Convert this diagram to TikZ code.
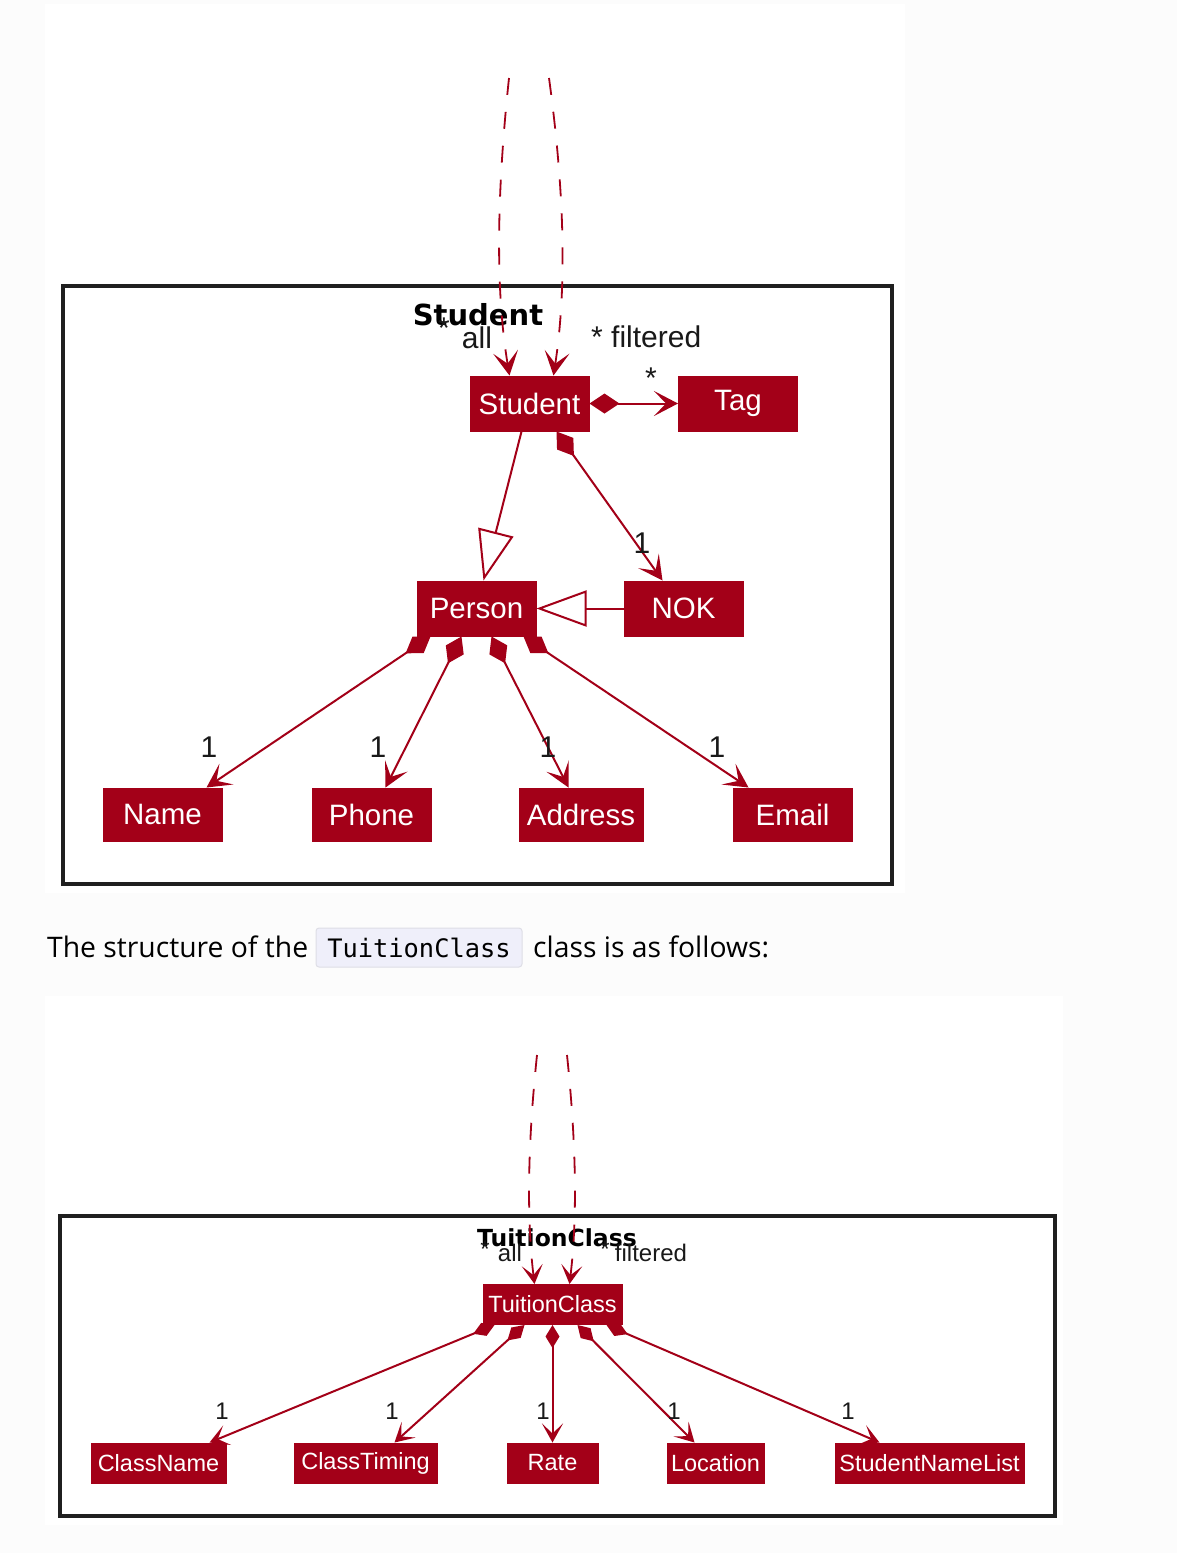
\documentclass[tikz,border=0pt]{standalone}
\usepackage{fontspec}
\setmainfont{Liberation Sans}
\newfontfamily\umlfont{Liberation Sans}
\newfontfamily\titlefont{DejaVu Sans}
\newfontfamily\bodyfont{Open Sans}
\newfontfamily\codefont{DejaVu Sans Mono}
\usetikzlibrary{arrows.meta,calc}
\definecolor{umlred}{RGB}{163,0,24}
\definecolor{pagebg}{RGB}{252,252,252}
\definecolor{codebg}{RGB}{239,239,250}
\definecolor{codeborder}{RGB}{222,222,230}
\definecolor{labelcol}{RGB}{25,25,25}
\tikzset{
  cls/.style={draw=umlred, fill=umlred, text=white, inner sep=0pt, line width=1pt},
  bigcls/.style={cls, font=\umlfont\fontsize{29.5}{29.5}\selectfont, minimum height=55pt},
  smallcls/.style={cls, font=\umlfont\fontsize{23.5}{23.5}\selectfont, minimum height=40pt},
  frameline/.style={draw=black!88, line width=3.2pt},
  conn/.style={draw=umlred, line width=2pt},
  bigopen/.style={-{Stealth[length=24pt,width=25pt,inset=12pt]}},
  smallopen/.style={-{Stealth[length=19pt,width=21pt,inset=10pt]}},
  bigcomp/.style={{Diamond[length=30pt,width=20pt]}-{Stealth[length=24pt,width=25pt,inset=12pt]}},
  smallcomp/.style={{Diamond[length=23pt,width=14pt]}-{Stealth[length=19pt,width=21pt,inset=10pt]}},
  gen/.style={-{Triangle[open,length=50pt,width=36pt,fill=white]}},
  loopline/.style={draw=umlred, line width=1.8pt, dash pattern=on 17pt off 17pt},
  biglab/.style={text=labelcol, font=\umlfont\fontsize{30}{30}\selectfont, inner sep=0pt},
  smalllab/.style={text=labelcol, font=\umlfont\fontsize{24}{24}\selectfont, inner sep=0pt},
}
\begin{document}
\begin{tikzpicture}[x=1pt,y=-1pt]
\useasboundingbox (0,0) rectangle (1177,1553);
% page background
\fill[pagebg] (0,0) rectangle (1177,1553);
\fill[white] (45,4) rectangle (905,893);
\fill[white] (45,996) rectangle (1063,1525);

% ================= Student diagram =================
\draw[frameline] (63,286) rectangle (892,884);
\node[font=\titlefont\bfseries\fontsize{29}{29}\selectfont, inner sep=0pt] (t1) at (478,315) {Student};

\node[bigcls, minimum width=119pt] (student) at (529.5,403.5) {Student};
\node[bigcls, minimum width=119pt] (tag) at (738,403.5) {Tag};
\node[bigcls, minimum width=119pt] (person) at (476.5,608.5) {Person};
\node[bigcls, minimum width=119pt] (nok) at (683.5,608.5) {NOK};
\node[bigcls, minimum width=119pt, minimum height=53pt] (name) at (162.5,814.5) {Name};
\node[bigcls, minimum width=119pt, minimum height=53pt] (phone) at (371.5,814.5) {Phone};
\node[bigcls, minimum width=124pt, minimum height=53pt] (address) at (581,814.5) {Address};
\node[bigcls, minimum width=119pt, minimum height=53pt] (email) at (792.5,814.5) {Email};

\coordinate (s1top) at (509,78);
\coordinate (s2top) at (549,78);
\draw[loopline, bigopen] (s1top) .. controls (495,210) and (497,300) .. ($(student.north west)+(40,0)$);
\draw[loopline, bigopen] (s2top) .. controls (567,210) and (565,300) .. ($(student.north west)+(84,0)$);

\node[biglab] (la1) at (444,328) {*};
\node[biglab] (la2) at (477,338) {all};
\node[biglab, anchor=west] (lf) at (591,337) {* filtered};
\node[biglab] (lt) at (651,378) {*};

\draw[conn, bigcomp] (student.east) -- (tag.west);
\draw[conn, gen] ($(student.south west)+(52,0)$) -- ($(person.north west)+(67,0)$);
\draw[conn, bigcomp] ($(student.south west)+(87,0)$) -- ($(nok.north west)+(39,0)$);
\draw[conn, gen] (nok.west) -- (person.east);
\node[biglab] (l0) at (642,543) {1};

\draw[conn, bigcomp] ($(person.south west)+(14,0)$) -- ($(name.north west)+(104,0)$);
\draw[conn, bigcomp] ($(person.south west)+(45,0)$) -- ($(phone.north west)+(74,0)$);
\draw[conn, bigcomp] ($(person.south west)+(75,0)$) -- ($(address.north west)+(50,0)$);
\draw[conn, bigcomp] ($(person.south west)+(107,0)$) -- ($(email.north west)+(16,0)$);
\node[biglab] (l1) at (209,747) {1};
\node[biglab] (l2) at (378,747) {1};
\node[biglab] (l3) at (548,747) {1};
\node[biglab] (l4) at (717,747) {1};

% ================= text line =================
\node[anchor=base west, inner sep=0pt, font=\bodyfont\fontsize{28.3}{28.3}\selectfont] (txt1) at (47,957) {The structure of the};
\node[draw=codeborder, fill=codebg, rounded corners=3pt, line width=1pt, minimum width=206pt, minimum height=39pt, inner sep=0pt] (code) at (419,947.5) {};
\node[anchor=base, inner sep=0pt, font=\codefont\fontsize{25.4}{25.4}\selectfont] (codetxt) at (419,957) {TuitionClass};
\node[anchor=base west, inner sep=0pt, font=\bodyfont\fontsize{28.3}{28.3}\selectfont] (txt2) at (533,957) {class is as follows:};

% ================= TuitionClass diagram =================
\draw[frameline] (60,1216) rectangle (1055,1516);
\node[font=\titlefont\bfseries\fontsize{23.5}{23.5}\selectfont, inner sep=0pt] (t2) at (557,1238) {TuitionClass};

\node[smallcls, minimum width=139pt] (tc) at (552.5,1304.5) {TuitionClass};
\node[smallcls, minimum width=135pt] (cname) at (158.5,1463) {ClassName};
\node[smallcls, minimum width=143pt] (ctime) at (365.5,1463) {ClassTiming};
\node[smallcls, minimum width=91pt] (rate) at (552.5,1463) {Rate};
\node[smallcls, minimum width=97pt] (loc) at (715.5,1463) {Location};
\node[smallcls, minimum width=189pt] (snl) at (929.5,1463) {StudentNameList};

\coordinate (t1top) at (537,1055);
\coordinate (t2top) at (567,1055);
\draw[loopline, smallopen] (t1top) .. controls (526,1160) and (528,1230) .. ($(tc.north west)+(52,0)$);
\draw[loopline, smallopen] (t2top) .. controls (578,1160) and (576,1230) .. ($(tc.north west)+(87,0)$);

\node[smalllab] (ta1) at (485,1249) {*};
\node[smalllab] (ta2) at (510,1253) {all};
\node[smalllab] (tf1) at (605,1249) {*};
\node[smalllab] (tf2) at (651,1253) {filtered};

\draw[conn, smallcomp] ($(tc.south west)+(12,0)$) -- ($(cname.north west)+(119,0)$);
\draw[conn, smallcomp] ($(tc.south west)+(42,0)$) -- ($(ctime.north west)+(101,0)$);
\draw[conn, smallcomp] (tc.south) -- (rate.north);
\draw[conn, smallcomp] ($(tc.south west)+(95,0)$) -- ($(loc.north west)+(28,0)$);
\draw[conn, smallcomp] ($(tc.south west)+(124,0)$) -- ($(snl.north west)+(45,0)$);
\node[smalllab] (m1) at (222,1411) {1};
\node[smalllab] (m2) at (392,1411) {1};
\node[smalllab] (m3) at (543,1411) {1};
\node[smalllab] (m4) at (674,1411) {1};
\node[smalllab] (m5) at (848,1411) {1};
\end{tikzpicture}
\end{document}
